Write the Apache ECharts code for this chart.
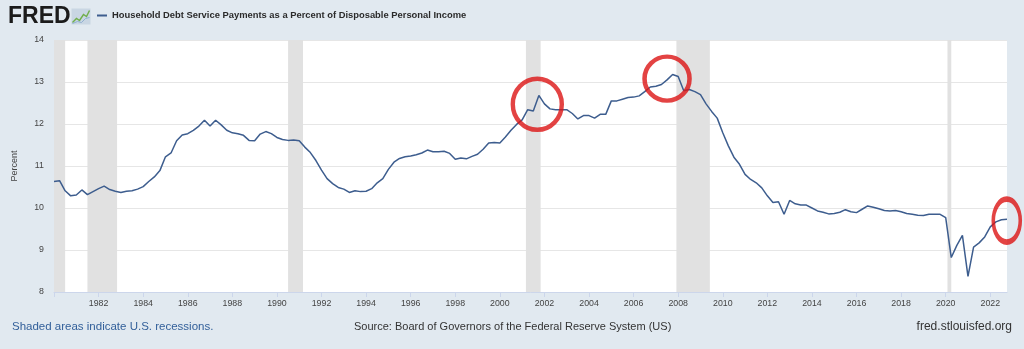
<!DOCTYPE html>
<html>
<head>
<meta charset="utf-8">
<script src="https://cdn.jsdelivr.net/npm/echarts@6/dist/echarts.min.js"></script>
<style>
  html, body { margin: 0; padding: 0; background: #e1e9f0; }
  #chart { width: 1024px; height: 349px; }
</style>
</head>
<body>
<div id="chart"></div>
<script>
// Household debt service payments, % of disposable personal income (quarterly, 1980 Q1 onward)
const startYear = 1980;
const debtServicePct = [
  10.63, 10.65, 10.41, 10.29,  // 1980
  10.31, 10.43, 10.32, 10.39,  // 1981
  10.46, 10.52, 10.44, 10.40,  // 1982
  10.37, 10.40, 10.41, 10.45,  // 1983
  10.51, 10.63, 10.74, 10.89,  // 1984
  11.22, 11.31, 11.60, 11.74,  // 1985
  11.77, 11.85, 11.95, 12.09,  // 1986
  11.95, 12.09, 11.98, 11.85,  // 1987
  11.79, 11.77, 11.73, 11.61,  // 1988
  11.60, 11.76, 11.82, 11.77,  // 1989
  11.68, 11.63, 11.61, 11.62,  // 1990
  11.60, 11.45, 11.32, 11.13,  // 1991
  10.90, 10.70, 10.58, 10.49,  // 1992
  10.45, 10.37, 10.41, 10.39,  // 1993
  10.40, 10.46, 10.60, 10.70,  // 1994
  10.92, 11.09, 11.18, 11.22,  // 1995
  11.24, 11.27, 11.31, 11.38,  // 1996
  11.34, 11.34, 11.35, 11.30,  // 1997
  11.16, 11.19, 11.17, 11.23,  // 1998
  11.28, 11.40, 11.55, 11.56,  // 1999
  11.55, 11.69, 11.85, 11.99,  // 2000
  12.10, 12.34, 12.31, 12.68,  // 2001
  12.48, 12.36, 12.34, 12.34,  // 2002
  12.34, 12.25, 12.12, 12.20,  // 2003
  12.20, 12.14, 12.23, 12.23,  // 2004
  12.55, 12.55, 12.59, 12.63,  // 2005
  12.64, 12.67, 12.77, 12.88,  // 2006
  12.90, 12.94, 13.05, 13.18,  // 2007
  13.13, 12.79, 12.82, 12.77,  // 2008
  12.70, 12.48, 12.30, 12.14,  // 2009
  11.79, 11.48, 11.21, 11.04,  // 2010
  10.80, 10.68, 10.60, 10.48,  // 2011
  10.29, 10.13, 10.15,  9.85,  // 2012
  10.18, 10.10, 10.07, 10.07,  // 2013
  10.00,  9.93,  9.90,  9.86,  // 2014
   9.87,  9.90,  9.96,  9.91,  // 2015
   9.89,  9.97, 10.05, 10.02,  // 2016
   9.98,  9.94,  9.93,  9.94,  // 2017
   9.91,  9.87,  9.85,  9.83,  // 2018
   9.82,  9.85,  9.85,  9.85,  // 2019
   9.77,  8.82,  9.11,  9.35,  // 2020
   8.37,  9.07,  9.17,  9.31,  // 2021
   9.55,  9.67,  9.72,  9.73   // 2022
];

// Recession periods (start, end) in fractional years
const recessions = [
  [1980.0, 1980.5],
  [1981.5, 1982.83],
  [1990.5, 1991.17],
  [2001.17, 2001.83],
  [2007.92, 2009.42],
  [2020.08, 2020.25]
];

// Highlighted spots on the series: [year, percent]
const highlights = [
  [2001.68, 12.47],
  [2007.50, 13.08],
  [2022.74, 9.70]
];

const seriesName = 'Household Debt Service Payments as a Percent of Disposable Personal Income';
const yMin = 8, yMax = 14, yStep = 1;
const xMin = 1980, xMax = 2022.75, xStep = 2;

const points = debtServicePct.map((v, i) => [startYear + i / 4, v]);
const highlightSizes = [[49, 51], [45, 44], [27, 43]];

const chart = echarts.init(document.getElementById('chart'), null, { renderer: 'canvas' });
const font = 'Liberation Sans, Arial, Helvetica, sans-serif';

chart.setOption({
  animation: false,
  backgroundColor: '#e1e9f0',
  textStyle: { fontFamily: font },
  grid: {
    left: 54, right: 17, top: 40, bottom: 57,
    show: true, backgroundColor: '#ffffff', borderWidth: 0
  },
  legend: {
    data: [seriesName],
    left: 97, top: 11, padding: 0,
    icon: 'rect', itemWidth: 10, itemHeight: 2,
    textStyle: { fontFamily: font, fontWeight: 'bold', fontSize: 9.4, color: '#2b2b2b' }
  },
  xAxis: {
    type: 'value',
    min: xMin, max: xMax, interval: xStep,
    axisLine: { lineStyle: { color: '#ccd6eb' } },
    axisTick: { show: true, length: 5, lineStyle: { color: '#ccd6eb' } },
    splitLine: { show: false },
    axisLabel: {
      fontSize: 8.8, color: '#444444', margin: 7, fontFamily: font,
      formatter: v => (v === xMin ? '' : String(v))
    }
  },
  yAxis: {
    type: 'value',
    min: yMin, max: yMax, interval: yStep,
    name: 'Percent', nameLocation: 'middle', nameGap: 35,
    nameTextStyle: { fontSize: 9, color: '#444444', fontFamily: font },
    axisLine: { show: false },
    axisTick: { show: false },
    splitLine: { lineStyle: { color: '#e6e6e6', width: 1 } },
    axisLabel: { fontSize: 8.8, color: '#444444', margin: 10, fontFamily: font }
  },
  series: [
    {
      name: seriesName,
      type: 'line',
      data: points,
      showSymbol: false,
      lineStyle: { color: '#3d5d8e', width: 1.5 },
      itemStyle: { color: '#3d5d8e' },
      z: 3,
      markArea: {
        silent: true,
        itemStyle: { color: '#e1e1e1' },
        data: recessions.map(r => [{ xAxis: r[0] }, { xAxis: r[1] }])
      }
    },
    {
      name: 'highlights',
      type: 'scatter',
      data: highlights,
      clip: false,
      symbol: 'circle',
      symbolSize: (val, params) => highlightSizes[params.dataIndex],
      itemStyle: { color: 'rgba(0,0,0,0)', borderColor: '#dc1414', borderWidth: 4.5 },
      z: 5
    }
  ],
  graphic: [
    {
      type: 'text', left: 8, top: 5,
      style: { text: 'FRED', font: 'bold 23px ' + font, fill: '#1b1b1b' }
    },
    {
      type: 'group', left: 70, top: 8,
      children: [
        { type: 'rect', shape: { x: 0, y: 0, width: 19, height: 16 }, style: { fill: '#c9d6e3' } },
        { type: 'polyline', shape: { points: [[1, 14], [5, 10], [8, 12], [12, 6], [15, 8], [18, 2]] },
          style: { stroke: '#6fae4a', lineWidth: 1.4, fill: null } },
        { type: 'polyline', shape: { points: [[1, 15], [6, 13], [10, 14], [14, 10], [18, 9]] },
          style: { stroke: '#8fb0d0', lineWidth: 1, fill: null } }
      ]
    },
    {
      type: 'text', left: 12, top: 321,
      style: { text: 'Shaded areas indicate U.S. recessions.', font: '11.5px ' + font, fill: '#33609a' }
    },
    {
      type: 'text', left: 354, top: 321,
      style: { text: 'Source: Board of Governors of the Federal Reserve System (US)', font: '11px ' + font, fill: '#333333' }
    },
    {
      type: 'text', right: 12, top: 321,
      style: { text: 'fred.stlouisfed.org', font: '12px ' + font, fill: '#333333' }
    }
  ]
});
</script>
</body>
</html>
